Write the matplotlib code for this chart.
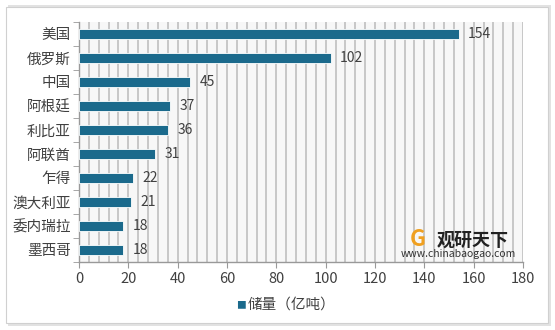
import matplotlib.pyplot as plt
from matplotlib.ticker import MultipleLocator
from matplotlib.patches import Rectangle

plt.rcParams['font.family'] = ['Noto Sans CJK SC', 'DejaVu Sans']

countries = ['美国', '俄罗斯', '中国', '阿根廷', '利比亚', '阿联酋', '乍得', '澳大利亚', '委内瑞拉', '墨西哥']
reserves = [154, 102, 45, 37, 36, 31, 22, 21, 18, 18]
series_name = '储量（亿吨）'

bar_color = '#1b6a8c'
text_color = '#404040'

fig = plt.figure(figsize=(5.55, 3.3), dpi=100)

# outer frame with soft shadow
fig.patches.append(Rectangle((0.014, 0.012), 0.978, 0.972, transform=fig.transFigure,
                             facecolor='#e2e2e2', edgecolor='none', zorder=-5))
fig.patches.append(Rectangle((0.010, 0.020), 0.977, 0.960, transform=fig.transFigure,
                             facecolor='white', edgecolor='#d0d0d0', linewidth=0.8, zorder=-4))

ax = fig.add_axes([79 / 555, 1 - 262 / 330, 444 / 555, 240 / 330])
ax.set_facecolor('#f7f7f7')

y = list(range(len(countries)))
ax.barh(y, reserves, height=0.38, color=bar_color, edgecolor='white', linewidth=0.6, zorder=3)
for yi, v in zip(y, reserves):
    ax.text(v + 3.8, yi, str(v), va='center', ha='left', fontsize=10, color=text_color, zorder=4)

ax.set_xlim(0, 180)
ax.set_ylim(len(countries) - 0.5, -0.5)
ax.set_yticks(y)
ax.set_yticklabels(countries, fontsize=10.5, color=text_color)
ax.set_yticks([i + 0.5 for i in range(-1, len(countries))], minor=True)
ax.xaxis.set_major_locator(MultipleLocator(20))
ax.xaxis.set_minor_locator(MultipleLocator(4))
ax.grid(axis='x', which='both', color='#c4c4c4', linewidth=1.3, zorder=1)
ax.set_axisbelow(True)
ax.tick_params(axis='x', which='major', labelsize=10.5, colors='#999999', labelcolor=text_color, length=4, pad=3)
ax.tick_params(axis='x', which='minor', length=0)
ax.tick_params(axis='y', which='major', length=0, pad=6)
ax.tick_params(axis='y', which='minor', length=4, color='#999999')

for side in ['top', 'right']:
    ax.spines[side].set_visible(False)
for side in ['left', 'bottom']:
    ax.spines[side].set_color('#999999')
    ax.spines[side].set_linewidth(1)

# legend
fig.text(241 / 555, 1 - 305 / 330, '■', color=bar_color, fontsize=7, va='center', ha='center')
fig.text(248 / 555, 1 - 305 / 330, series_name, color=text_color, fontsize=10.5, va='center', ha='left')

# watermark
fig.text(437 / 555, 1 - 240 / 330, '观研天下', fontsize=13, fontweight='bold', color='#222222',
         va='center', ha='left', zorder=5)
fig.text(401 / 555, 1 - 254 / 330, 'www.chinabaogao.com', fontsize=7.5, color='#333333',
         va='center', ha='left', zorder=5)
fig.text(418 / 555, 1 - 239 / 330, 'G', fontsize=16, fontweight='bold', color='#f0a020',
         va='center', ha='center', zorder=5)

fig.savefig('out.png', dpi=100)
